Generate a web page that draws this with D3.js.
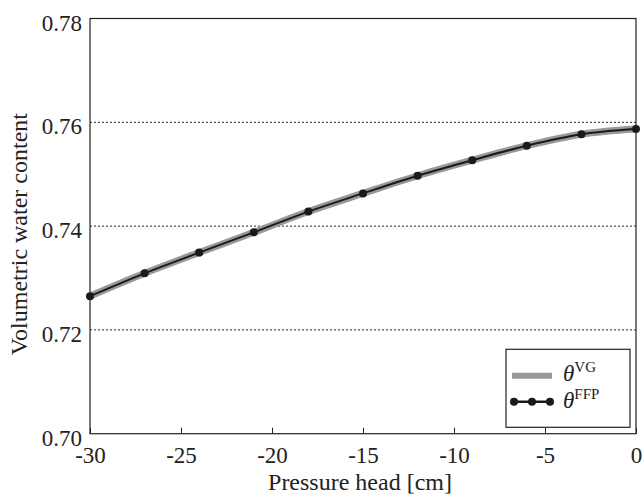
<!DOCTYPE html>
<html>
<head>
<meta charset="utf-8">
<script src="https://cdn.jsdelivr.net/npm/d3@7"></script>
<style>
  html, body { margin: 0; padding: 0; background: #fff; }
  svg { display: block; }
  svg text { font-family: "Liberation Serif", "DejaVu Serif", serif !important; fill: #222; }
</style>
</head>
<body>
<svg id="chart" width="642" height="495"></svg>
<script>
// Pressure head samples [cm]
const pressureHead = [-30, -27, -24, -21, -18, -15, -12, -9, -6, -3, 0];
// van Genuchten water content
const thetaVG = [0.7265, 0.7309, 0.7349, 0.7388, 0.7428, 0.7463, 0.7497, 0.7527, 0.7555, 0.7577, 0.7587];
// FFP water content
const thetaFFP = [0.7265, 0.7309, 0.7349, 0.7388, 0.7428, 0.7463, 0.7497, 0.7527, 0.7555, 0.7577, 0.7587];
const xTicks = [-30, -25, -20, -15, -10, -5, 0];
const yTicks = [0.70, 0.72, 0.74, 0.76, 0.78];
const yGrid = [0.72, 0.74, 0.76];

const serif = "'Liberation Serif', 'DejaVu Serif', serif";
const svg = d3.select("#chart");
const plotL = 90, plotR = 636, plotT = 18.5, plotB = 433.7;

const x = d3.scaleLinear().domain([-30, 0]).range([plotL, plotR]);
const y = d3.scaleLinear().domain([0.70, 0.78]).range([plotB, plotT]);

// dotted horizontal grid
svg.append("g").selectAll("line").data(yGrid).join("line")
  .attr("x1", plotL).attr("x2", plotR)
  .attr("y1", d => y(d)).attr("y2", d => y(d))
  .attr("stroke", "#222").attr("stroke-width", 1)
  .attr("stroke-dasharray", "2,2");

// x axis with inward ticks
const xAxis = svg.append("g").attr("transform", `translate(0,${plotB})`)
  .call(d3.axisBottom(x).tickValues(xTicks).tickSizeInner(-6).tickSizeOuter(0)
    .tickFormat(d3.format("d")))
  .attr("font-family", serif).attr("font-size", 23);
xAxis.select(".domain").remove();
xAxis.selectAll(".tick line").attr("stroke", "#222");
xAxis.selectAll(".tick text")
  .attr("y", 29).attr("dy", null)
  .attr("fill", "#222")
  .text(d => d === 0 ? "0" : "-" + Math.abs(d));

// y axis labels
const yAxis = svg.append("g").attr("transform", `translate(${plotL},0)`)
  .call(d3.axisLeft(y).tickValues(yTicks).tickSize(0).tickFormat(d3.format(".2f")))
  .attr("font-family", serif).attr("font-size", 23);
yAxis.select(".domain").remove();
yAxis.selectAll(".tick text")
  .attr("x", -8).attr("dy", null).attr("y", 11.5)
  .attr("fill", "#222");

// frame
svg.append("rect")
  .attr("x", plotL).attr("y", plotT)
  .attr("width", plotR - plotL).attr("height", plotB - plotT)
  .attr("fill", "none").attr("stroke", "#222").attr("stroke-width", 1.2);

// van Genuchten curve (thick gray)
const lineVG = d3.line().x((d, i) => x(pressureHead[i])).y(d => y(d)).curve(d3.curveMonotoneX);
svg.append("path").datum(thetaVG)
  .attr("d", lineVG)
  .attr("fill", "none").attr("stroke", "#999").attr("stroke-width", 7);

// FFP curve with markers
const lineFFP = d3.line().x((d, i) => x(pressureHead[i])).y(d => y(d)).curve(d3.curveMonotoneX);
svg.append("path").datum(thetaFFP)
  .attr("d", lineFFP)
  .attr("fill", "none").attr("stroke", "#1a1a1a").attr("stroke-width", 2);
svg.append("g").selectAll("circle").data(thetaFFP).join("circle")
  .attr("cx", (d, i) => x(pressureHead[i])).attr("cy", d => y(d))
  .attr("r", 4).attr("fill", "#1a1a1a");

// axis titles
svg.append("text")
  .attr("x", (plotL + plotR) / 2 - 3).attr("y", 490)
  .attr("text-anchor", "middle").attr("font-size", 24)
  .text("Pressure head [cm]");
svg.append("text")
  .attr("transform", `translate(27,${(plotT + plotB) / 2 + 8}) rotate(-90)`)
  .attr("text-anchor", "middle").attr("font-size", 24)
  .text("Volumetric water content");

// legend
const lg = svg.append("g");
lg.append("rect")
  .attr("x", 506).attr("y", 349.3).attr("width", 124).attr("height", 78)
  .attr("fill", "#fff").attr("stroke", "#222").attr("stroke-width", 1.2);
lg.append("line")
  .attr("x1", 512).attr("x2", 552).attr("y1", 375.7).attr("y2", 375.7)
  .attr("stroke", "#999").attr("stroke-width", 6);
lg.append("line")
  .attr("x1", 514).attr("x2", 550).attr("y1", 401.7).attr("y2", 401.7)
  .attr("stroke", "#1a1a1a").attr("stroke-width", 2.5);
lg.selectAll("circle.lg").data([514, 532, 550]).join("circle")
  .attr("class", "lg")
  .attr("cx", d => d).attr("cy", 401.7).attr("r", 4).attr("fill", "#1a1a1a");

const entries = [{sup: "VG", y: 381}, {sup: "FFP", y: 407.5}];
entries.forEach(e => {
  const t = lg.append("text").attr("x", 563).attr("y", e.y).attr("font-size", 23);
  t.append("tspan").style("font-style", "italic").text("θ");
  t.append("tspan").attr("dy", -9).attr("font-size", 15).text(e.sup);
});
</script>
</body>
</html>
